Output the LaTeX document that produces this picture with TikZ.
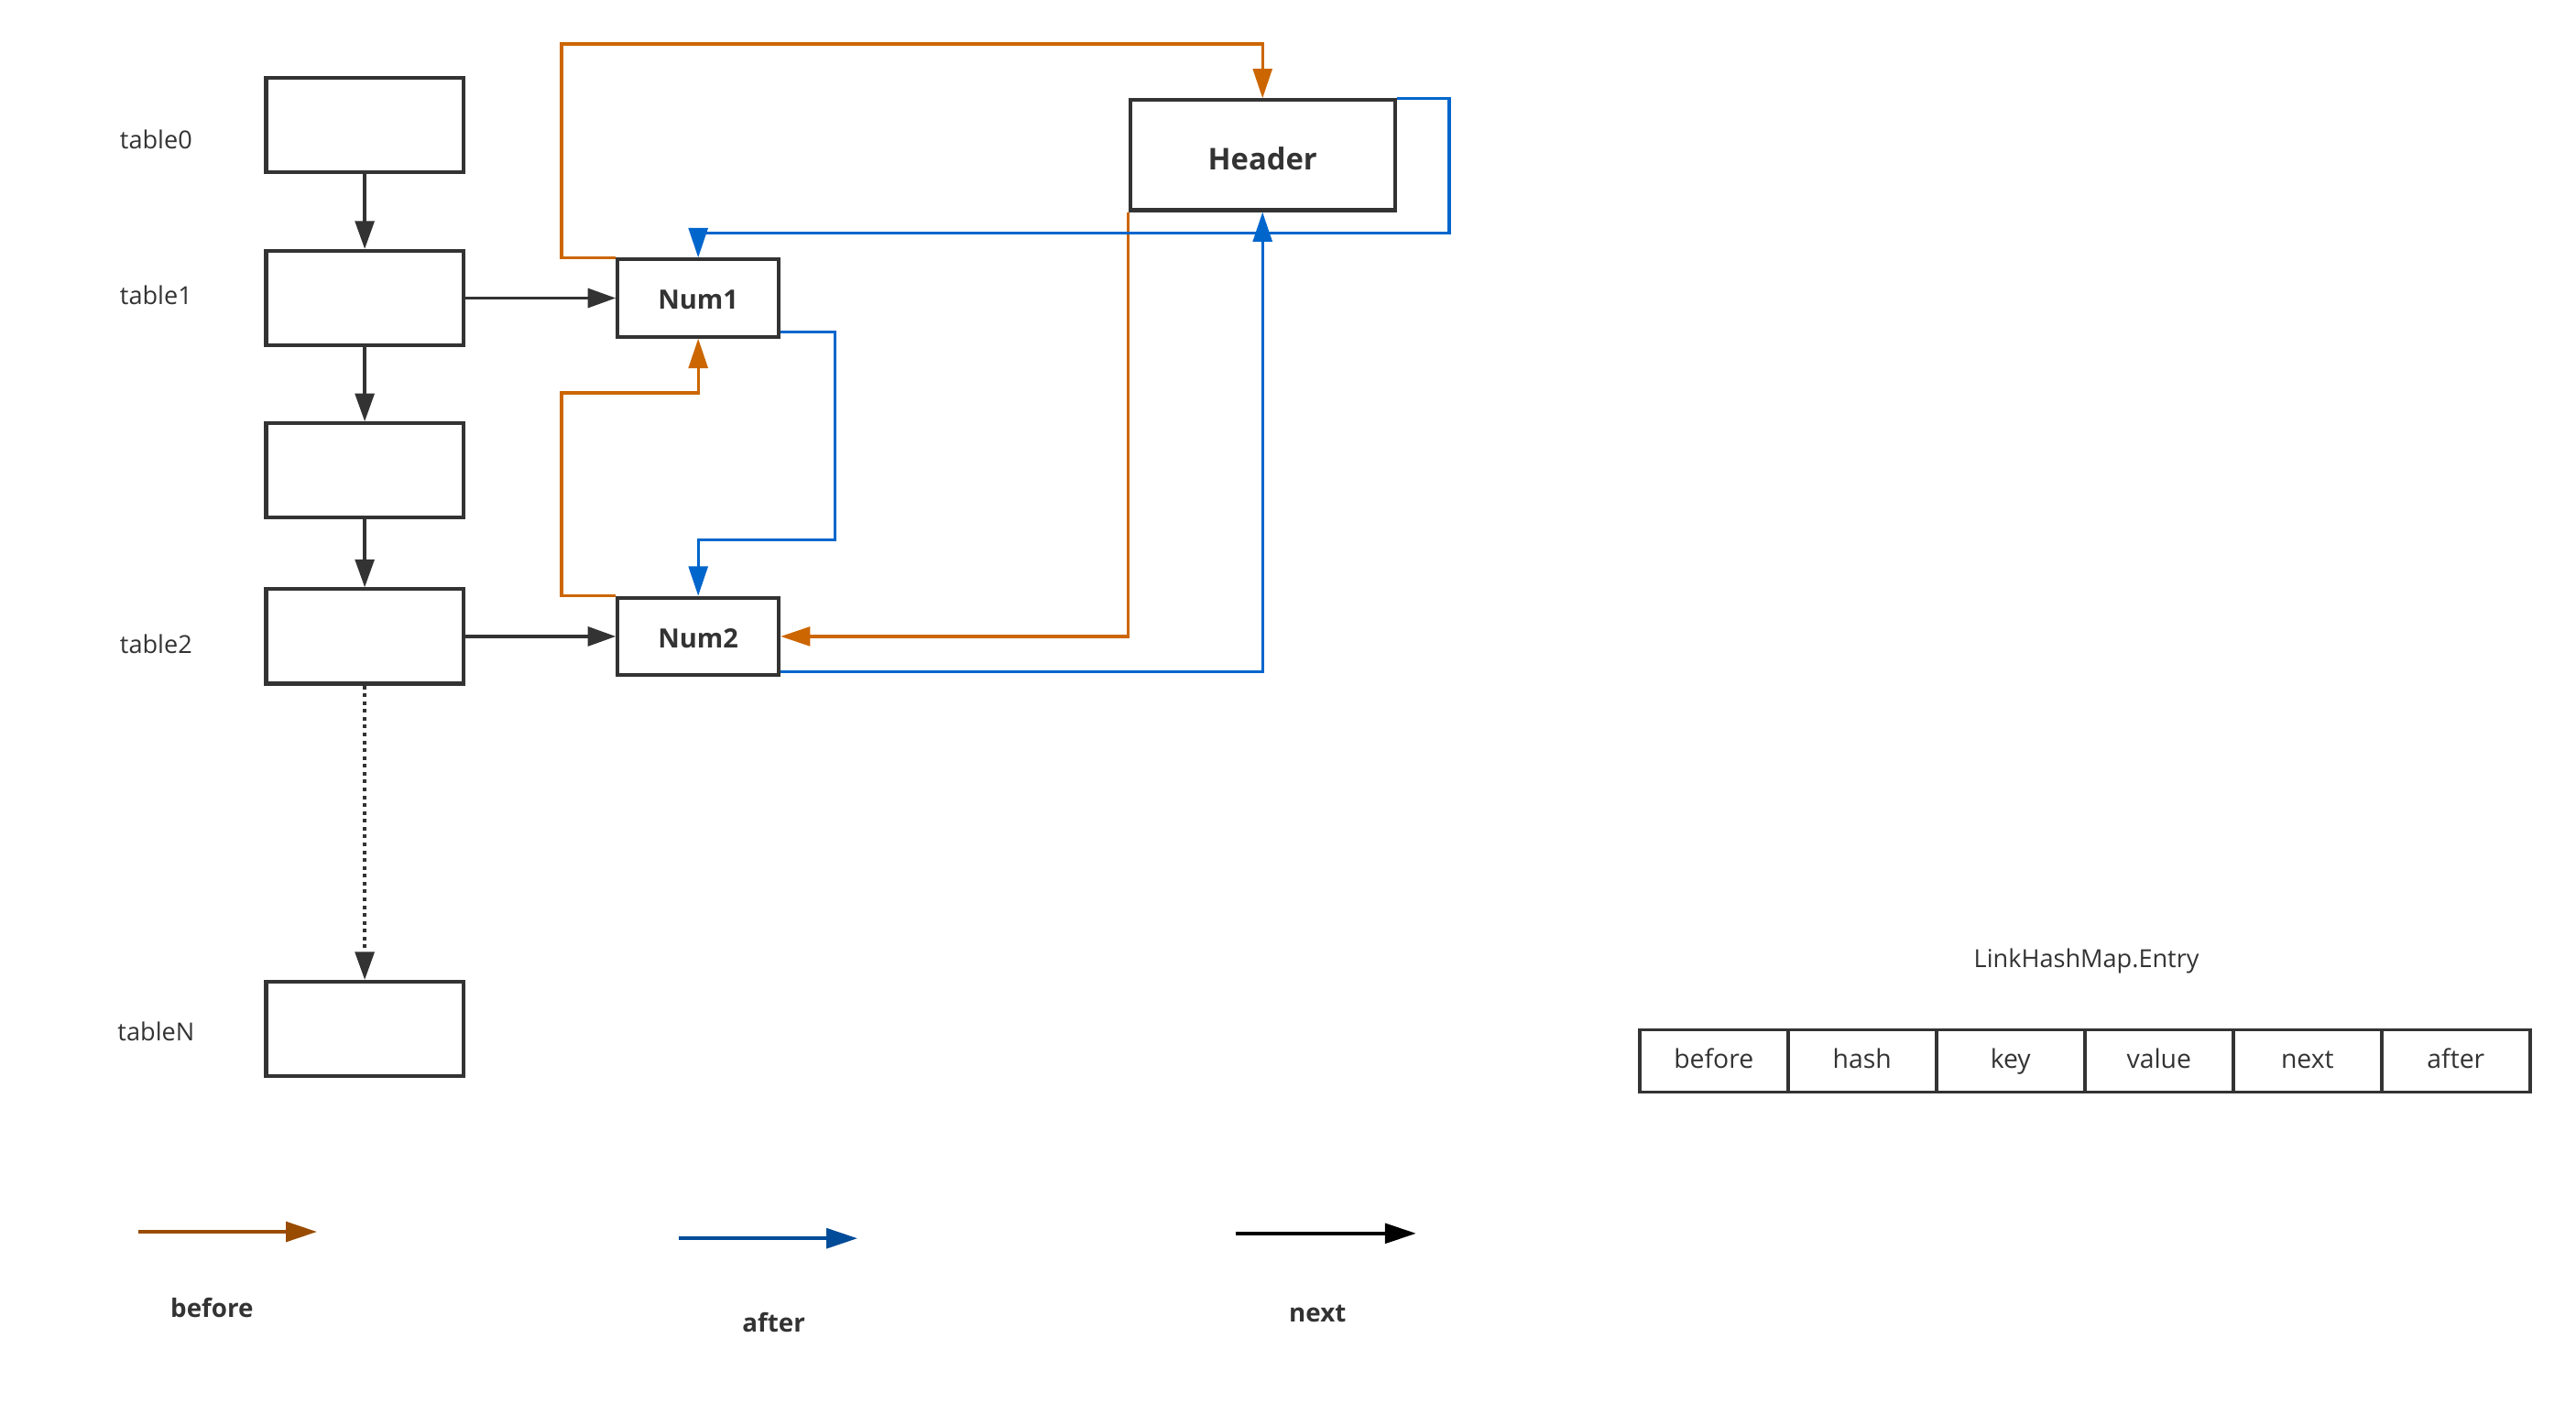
\documentclass[tikz,border=0pt]{standalone}
\usepackage{fontspec}
\setmainfont{Open Sans}
\usetikzlibrary{arrows.meta,calc}
\definecolor{dk}{HTML}{333333}
\definecolor{org}{HTML}{CC6600}
\definecolor{blu}{HTML}{0066CC}
\definecolor{lorg}{HTML}{994C00}
\definecolor{lblu}{HTML}{004C99}
\begin{document}
\begin{tikzpicture}[x=0.5mm,y=-0.5mm,
  tbox/.style={draw=dk,line width=3.3pt,minimum width=60mm,minimum height=28.75mm,inner sep=0pt},
  nbox/.style={draw=dk,line width=3.3pt,minimum width=49mm,minimum height=23.5mm,inner sep=0pt,font=\fontsize{23}{26}\selectfont\bfseries,text=dk},
  hbox/.style={draw=dk,line width=3.3pt,minimum width=80.5mm,minimum height=33.5mm,inner sep=0pt,font=\fontsize{26}{29}\selectfont\bfseries,text=dk},
  cell/.style={draw=dk,line width=2.8pt,minimum width=45.17mm,minimum height=19mm,inner sep=0pt},
  celltext/.style={font=\fontsize{22.5}{26}\selectfont,text=dk,inner sep=0pt,text height=1.45ex,text depth=0pt},
  lbl/.style={font=\fontsize{21.5}{24}\selectfont,text=dk,inner sep=0pt},
  blbl/.style={font=\fontsize{22}{24}\selectfont\bfseries,text=dk,inner sep=0pt},
  nxt/.style={draw=dk,line width=2.8pt,-{Triangle[length=8.5mm,width=5.8mm]}},
  bef/.style={draw=org,line width=2.6pt,-{Triangle[length=9mm,width=5.8mm]}},
  aft/.style={draw=blu,line width=2.6pt,-{Triangle[length=9mm,width=5.8mm]}},
  legtip/.style={line width=3.4pt,-{Triangle[length=9.5mm,width=6mm]}}
]
\useasboundingbox (0,0) rectangle (1568,854);

% table column
\node[tbox] (t0) at (222,76) {};
\node[tbox] (t1) at (222,181.5) {};
\node[tbox] (t3) at (222,286.5) {};
\node[tbox] (t2) at (222,387.5) {};
\node[tbox] (tN) at (222,626.5) {};
\node[lbl] (l0) at (95,85) {table0};
\node[lbl] (l1) at (95,180) {table1};
\node[lbl] (l2) at (95,392) {table2};
\node[lbl] (lN) at (95,628) {tableN};

% entries
\node[nbox] (n1) at (425,181.5) {};
\node[nbox] (n2) at (425,387.5) {};
\node[hbox] (hd) at (768.5,94.5) {};
\node[nbox,draw=none] (n1t) at (425,182.5) {Num1};
\node[nbox,draw=none] (n2t) at (425,388.5) {Num2};
\node[hbox,draw=none] (hdt) at (768.5,96.5) {Header};

% next arrows
\draw[nxt] (t0) -- (t1);
\draw[nxt] (t1) -- (t3);
\draw[nxt] (t3) -- (t2);
\draw[nxt,dash pattern=on 3.2pt off 3.6pt] (t2) -- (tN);
\draw[nxt] (t1) -- (n1);
\draw[nxt] (t2) -- (n2);

% before arrows
\draw[bef] (n1.north west) -- ++(-33,0) |- ($(hd.north)+(0,-33)$) -- (hd.north);
\draw[bef] (n2.north west) -- ++(-33,0) |- ($(n1.south)+(0,33)$) -- (n1.south);
\draw[bef] (hd.south west) -- (hd.south west |- n2.east) -- (n2.east);

% after arrows
\draw[aft] (hd.north east) -- ++(32,0) |- ($(n1.north)+(0,-15)$) -- (n1.north);
\draw[aft] ($(n1.south east)+(0,-4)$) -- ++(33,0) |- ($(n2.north)+(0,-34)$) -- (n2.north);
\draw[aft] ($(n2.south east)+(0,-3)$) -| (hd.south);

% entry structure
\node[lbl] (et) at (1270,585) {LinkHashMap.Entry};
\node[cell] (c1) at (1043.17,646) {};
\node[cell] (c2) at (1133.5,646) {};
\node[cell] (c3) at (1223.83,646) {};
\node[cell] (c4) at (1314.17,646) {};
\node[cell] (c5) at (1404.5,646) {};
\node[cell] (c6) at (1494.83,646) {};
\node[celltext] (c1t) at ($(c1)+(0,1.5)$) {before};
\node[celltext] (c2t) at ($(c2)+(0,1.5)$) {hash};
\node[celltext] (c3t) at ($(c3)+(0,1.5)$) {key};
\node[celltext] (c4t) at ($(c4)+(0,1.5)$) {value};
\node[celltext] (c5t) at ($(c5)+(0,1.5)$) {next};
\node[celltext] (c6t) at ($(c6)+(0,1.5)$) {after};

% legend
\coordinate (b1) at (84,750); \coordinate (b2) at (193,750);
\draw[legtip,draw=lorg,fill=lorg] (b1) -- (b2);
\node[blbl] (bl) at (129,796) {before};
\coordinate (a1) at (413,754); \coordinate (a2) at (522,754);
\draw[legtip,draw=lblu,fill=lblu] (a1) -- (a2);
\node[blbl] (al) at (471,805) {after};
\coordinate (x1) at (752,751); \coordinate (x2) at (862,751);
\draw[legtip,draw=black,fill=black] (x1) -- (x2);
\node[blbl] (xl) at (802,800) {next};
\end{tikzpicture}
\end{document}
